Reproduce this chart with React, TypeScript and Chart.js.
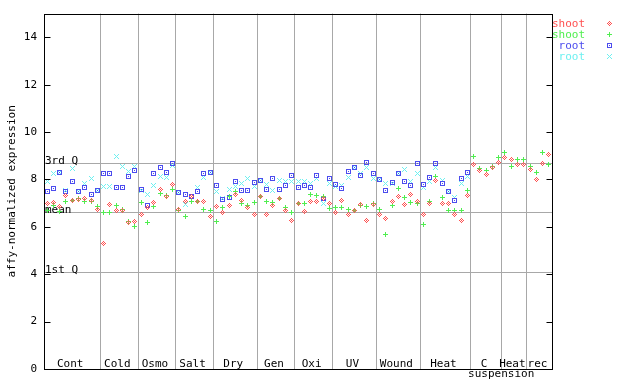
import React, { useEffect, useRef } from 'react';
import { Chart, registerables } from 'chart.js';

Chart.register(...registerables);

const groupLabels = ['Cont', 'Cold', 'Osmo', 'Salt', 'Dry', 'Gen', 'Oxi', 'UV', 'Wound', 'Heat', 'C\nsuspension', 'Heat', 'rec'];
const groupSizes = [9, 6, 6, 6, 7, 6, 6, 7, 7, 8, 5, 4, 4];
const yTicks = [0, 2, 4, 6, 8, 10, 12, 14];
const quartileNames = ['3rd Q', 'mean', '1st Q'];
const quartileValues = [8.69, 6.62, 4.09];

const shootRed = [
  6.99, 7.03, 6.85, 7.31, 7.13, 7.16, 7.18, 7.11, 6.73,
  5.30, 6.96, 6.71, 6.71, 6.17, 6.24,
  6.54, 6.80, 7.01, 7.58, 7.27, 7.79,
  6.74, 7.09, 7.30, 7.09, 7.09, 6.45,
  6.87, 6.61, 6.92, 7.37, 7.13, 6.82, 6.52,
  7.27, 6.52, 6.89, 7.20, 6.71, 6.27,
  6.99, 6.66, 7.09, 7.09, 7.20, 6.99,
  6.59, 7.13, 6.52, 6.71, 6.95, 6.28, 6.95,
  6.52, 6.36, 7.06, 7.30, 6.95, 7.37, 7.06,
  6.52, 6.99, 7.97, 6.99, 6.99, 6.50, 6.28, 7.34,
  8.65, 8.36, 8.21, 8.49, 8.71,
  8.91, 8.84, 8.65, 8.65,
  8.43, 8.01, 8.67, 9.07,
];
const shootGreen = [
  6.71, 6.89, 6.66, 7.06, 7.13, 7.20, 7.09, 7.06, 6.87,
  6.59, 6.59, 6.89, 6.75, 6.21, 6.03,
  7.03, 6.19, 6.87, 7.41, 7.34, 7.58,
  6.71, 6.45, 7.09, 7.06, 6.74, 6.68,
  6.24, 6.82, 7.27, 7.48, 6.99, 6.89, 7.03,
  7.27, 7.09, 7.01, 7.20, 6.82, 6.61,
  6.99, 6.99, 7.38, 7.34, 7.27, 6.77,
  6.82, 6.82, 6.74, 6.68, 6.92, 6.87, 6.99,
  6.75, 5.68, 6.92, 7.62, 7.23, 7.03, 6.99,
  6.10, 7.06, 8.14, 7.24, 6.71, 6.68, 6.68, 7.55,
  8.98, 8.46, 8.39, 8.56, 8.92,
  9.12, 8.56, 8.84, 8.84,
  8.53, 8.29, 9.14, 8.65,
];
const rootBlue = [
  7.51, 7.62, 8.29, 7.48, 7.93, 7.48, 7.66, 7.37, 7.52,
  8.27, 8.27, 7.68, 7.66, 8.13, 8.39,
  7.58, 6.92, 8.25, 8.50, 8.29, 8.67,
  7.44, 7.37, 7.30, 7.48, 8.27, 8.30,
  7.76, 7.17, 7.23, 7.93, 7.55, 7.55, 7.87,
  7.97, 7.59, 8.04, 7.59, 7.73, 8.18,
  7.66, 7.73, 7.66, 8.18, 7.20, 8.04,
  7.80, 7.62, 8.35, 8.49, 8.18, 8.71, 8.25,
  8.01, 7.55, 7.87, 8.25, 7.93, 7.76, 8.67,
  7.79, 8.08, 8.67, 7.83, 7.48, 7.13, 8.04, 8.29,
  null, null, null, null, null,
  null, null, null, null,
  null, null, null, null,
];
const rootCyan = [
  7.93, 8.25, 8.30, 7.55, 8.46, 7.48, 7.83, 8.04, 7.55,
  7.69, 7.69, 8.95, 8.53, 8.32, 8.53,
  7.55, 7.38, 7.76, 8.11, 8.08, 8.60,
  7.44, 6.96, 7.30, 7.66, 8.08, 8.30,
  7.48, 7.20, 7.59, 7.69, 7.83, 8.04, 7.69,
  7.97, 7.80, 7.55, 7.97, 7.93, 7.93,
  7.91, 7.93, 7.83, 8.04, 6.99, 7.83,
  7.69, 7.76, 8.08, 8.50, 8.25, 8.49, 8.04,
  8.01, 7.83, 7.83, 8.25, 8.43, 7.90, 8.25,
  7.66, 7.93, 8.50, 7.97, 7.48, 7.23, 7.83, 8.11,
  null, null, null, null, null,
  null, null, null, null,
  null, null, null, null,
];

const seriesNames = ['shoot', 'shoot', 'root', 'root'];
const seriesColors = ['#ff5050', '#50ee50', '#4c4cee', '#6ef0f0'];
const seriesMarkers = ['diamond', 'plus', 'square', 'cross'];
const seriesValues = [shootRed, shootGreen, rootBlue, rootCyan];

const MONO = "'DejaVu Sans Mono', monospace";

function makeMarker(color: string, kind: string): HTMLCanvasElement {
  const c = document.createElement('canvas');
  c.width = 5;
  c.height = 5;
  const g = c.getContext('2d')!;
  g.fillStyle = color;
  for (let dy = -2; dy <= 2; dy++) {
    for (let dx = -2; dx <= 2; dx++) {
      const ax = Math.abs(dx), ay = Math.abs(dy);
      let on = false;
      if (kind === 'diamond') on = ax + ay <= 2 && (ax + ay) % 2 === 0;
      else if (kind === 'plus') on = dx === 0 || dy === 0;
      else if (kind === 'square') on = ax === 2 || ay === 2 || (dx === 0 && dy === 0);
      else on = ax === ay;
      if (on) g.fillRect(dx + 2, dy + 2, 1, 1);
    }
  }
  return c;
}

export default function App() {
  const ref = useRef<HTMLCanvasElement | null>(null);

  useEffect(() => {
    document.body.style.margin = '0';
    const canvas = ref.current!;
    const markers = seriesMarkers.map((m, k) => makeMarker(seriesColors[k], m));
    const total = groupSizes.reduce((a, b) => a + b, 0);
    const bounds: number[] = [];
    let acc = 0;
    groupSizes.forEach((s, k) => {
      acc += s;
      if (k < groupSizes.length - 1) bounds.push(acc);
    });

    const decor = {
      id: 'decor',
      beforeDatasetsDraw(chart: any) {
        const { ctx, chartArea } = chart;
        const ys = chart.scales.y;
        ctx.save();
        ctx.strokeStyle = '#a8a8a8';
        ctx.lineWidth = 1;
        ctx.font = `11px ${MONO}`;
        ctx.fillStyle = '#000';
        ctx.textAlign = 'left';
        ctx.textBaseline = 'alphabetic';
        quartileValues.forEach((v, k) => {
          const py = Math.round(ys.getPixelForValue(v)) + 0.5;
          ctx.beginPath();
          ctx.moveTo(chartArea.left, py);
          ctx.lineTo(chartArea.right, py);
          ctx.stroke();
          ctx.fillText(quartileNames[k], chartArea.left + 1, py);
        });
        ctx.restore();
        ctx.imageSmoothingEnabled = false;
      },
      afterDraw(chart: any) {
        const { ctx, chartArea } = chart;
        const ys = chart.scales.y;
        const xs = chart.scales.x;
        const L = Math.round(chartArea.left) + 0.5;
        const R = Math.round(chartArea.right) + 0.5;
        const T = Math.round(chartArea.top) + 0.5;
        const B = Math.round(chartArea.bottom) + 0.5;
        ctx.save();
        ctx.strokeStyle = '#000';
        ctx.lineWidth = 1;
        ctx.strokeRect(L, T, R - L, B - T);
        ctx.beginPath();
        yTicks.forEach((v) => {
          const py = Math.round(ys.getPixelForValue(v)) + 0.5;
          ctx.moveTo(L, py);
          ctx.lineTo(L + 6, py);
          ctx.moveTo(R - 6, py);
          ctx.lineTo(R, py);
        });
        ctx.stroke();

        ctx.font = `11px ${MONO}`;
        ctx.fillStyle = '#000';
        ctx.textAlign = 'center';
        ctx.textBaseline = 'alphabetic';
        let start = 0;
        groupLabels.forEach((lab, k) => {
          const c = xs.getPixelForValue(start + groupSizes[k] / 2) - 2;
          const lines = lab.split('\n');
          ctx.fillText(lines[0], c, chartArea.bottom - 2);
          if (lines[1]) ctx.fillText(lines[1], c + 17, chartArea.bottom + 8);
          start += groupSizes[k];
        });

        ctx.textAlign = 'right';
        ctx.imageSmoothingEnabled = false;
        seriesNames.forEach((n, k) => {
          const by = 27 + k * 11;
          ctx.fillStyle = seriesColors[k];
          ctx.fillText(n, 585, by);
          ctx.drawImage(markers[k], 607, by - 6);
        });
        ctx.restore();
      },
    };

    const chart = new Chart(canvas, {
      type: 'scatter',
      data: {
        datasets: seriesValues.map((vals, k) => ({
          label: seriesNames[k],
          data: vals.map((v, i) => ({ x: i + 0.5, y: v as any })),
          pointStyle: markers[k] as any,
          pointRadius: 3,
          borderColor: seriesColors[k],
          backgroundColor: seriesColors[k],
          showLine: false,
        })),
      },
      options: {
        animation: false,
        responsive: false,
        maintainAspectRatio: false,
        events: [],
        layout: { padding: { left: 0, top: 13, right: 88, bottom: 0 } },
        plugins: { legend: { display: false }, tooltip: { enabled: false } },
        scales: {
          x: {
            type: 'linear',
            min: 0,
            max: total,
            afterBuildTicks: (s: any) => {
              s.ticks = bounds.map((v) => ({ value: v }));
            },
            afterFit: (s: any) => {
              s.height = 15;
            },
            grid: { color: '#a8a8a8', drawTicks: false, lineWidth: 1 },
            border: { display: false },
            ticks: { display: false },
          },
          y: {
            type: 'linear',
            min: 0,
            max: 15,
            afterBuildTicks: (s: any) => {
              s.ticks = yTicks.map((v) => ({ value: v }));
            },
            afterFit: (s: any) => {
              s.width = 44;
            },
            grid: { display: false, drawTicks: false },
            border: { display: false },
            ticks: { color: '#000', padding: 7, font: { family: MONO, size: 11 } },
            title: {
              display: true,
              text: 'affy-normalized expression',
              color: '#000',
              font: { family: MONO, size: 11 },
              padding: { top: 6, bottom: 0 },
            },
          },
        },
      },
      plugins: [decor],
    });
    return () => chart.destroy();
  }, []);

  return <canvas ref={ref} width={640} height={384} style={{ display: 'block' }} />;
}
